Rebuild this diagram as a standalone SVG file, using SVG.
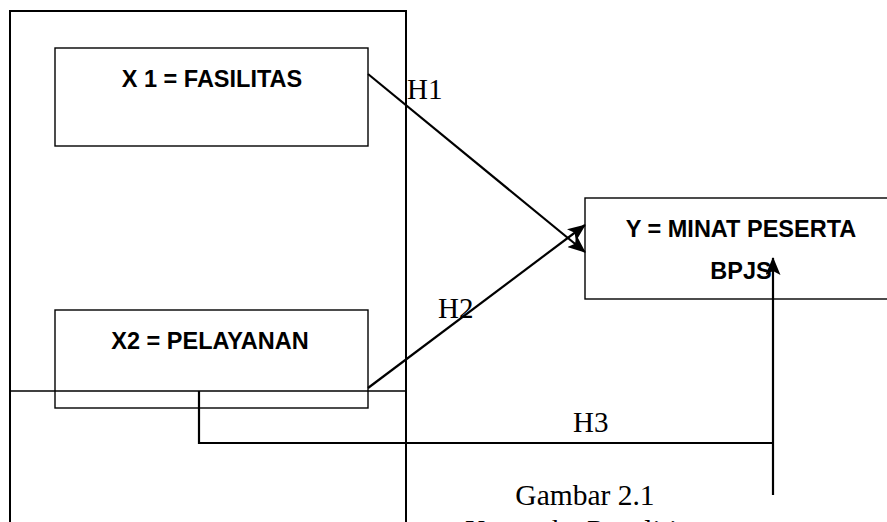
<svg xmlns="http://www.w3.org/2000/svg" width="887" height="522" viewBox="0 0 887 522">
<style>
.box{fill:#fff;stroke:#000;stroke-width:1.4}
.frame{fill:none;stroke:#000;stroke-width:2}
.lbl{font-family:"Liberation Sans",Arial,sans-serif;font-weight:bold;font-size:23.5px;fill:#000;text-anchor:middle}
.h{font-family:"Liberation Serif","Times New Roman",serif;font-size:29px;fill:#000}
.con{fill:none;stroke:#000;stroke-width:2.2}
</style>
<defs>
<marker id="arr" markerWidth="18" markerHeight="15" refX="17" refY="7.5" orient="auto" markerUnits="userSpaceOnUse">
<path d="M0,0 L18,7.5 L0,15 L4,7.5 Z" fill="#000"/>
</marker>
</defs>
<rect width="887" height="522" fill="#fff"/>
<g id="frame">
<path class="frame" d="M10,540 L10,11 L406,11 L406,540"/>
<line x1="10" y1="391" x2="406" y2="391" stroke="#000" stroke-width="1.6"/>
</g>
<g id="x1">
<rect class="box" x="55" y="48" width="313" height="98"/>
<text class="lbl" x="212" y="87">X 1 = FASILITAS</text>
</g>
<g id="x2">
<rect class="box" x="55" y="310" width="313" height="98" style="fill:none"/>
<text class="lbl" x="210" y="349">X2 = PELAYANAN</text>
</g>
<g id="y">
<rect class="box" x="585" y="198" width="320" height="101"/>
<text class="lbl" x="741" y="237">Y = MINAT PESERTA</text>
<text class="lbl" x="741" y="279">BPJS</text>
</g>
<g id="connectors">
<line class="con" x1="368" y1="74" x2="585" y2="252" marker-end="url(#arr)"/>
<line class="con" x1="368" y1="388" x2="585" y2="225" marker-end="url(#arr)"/>
<path class="con" d="M199,391 L199,443 L773,443"/>
<line class="con" x1="773" y1="495" x2="773" y2="258" marker-end="url(#arr)"/>
</g>
<g id="labels">
<text class="h" x="407" y="99">H1</text>
<text class="h" x="438" y="318">H2</text>
<text class="h" x="573" y="432">H3</text>
<text class="h" x="585" y="505" text-anchor="middle" style="font-size:29.5px">Gambar 2.1</text>
<text class="h" x="585" y="540" text-anchor="middle" style="font-size:29.5px">Kerangka Penelitian</text>
</g>
</svg>
